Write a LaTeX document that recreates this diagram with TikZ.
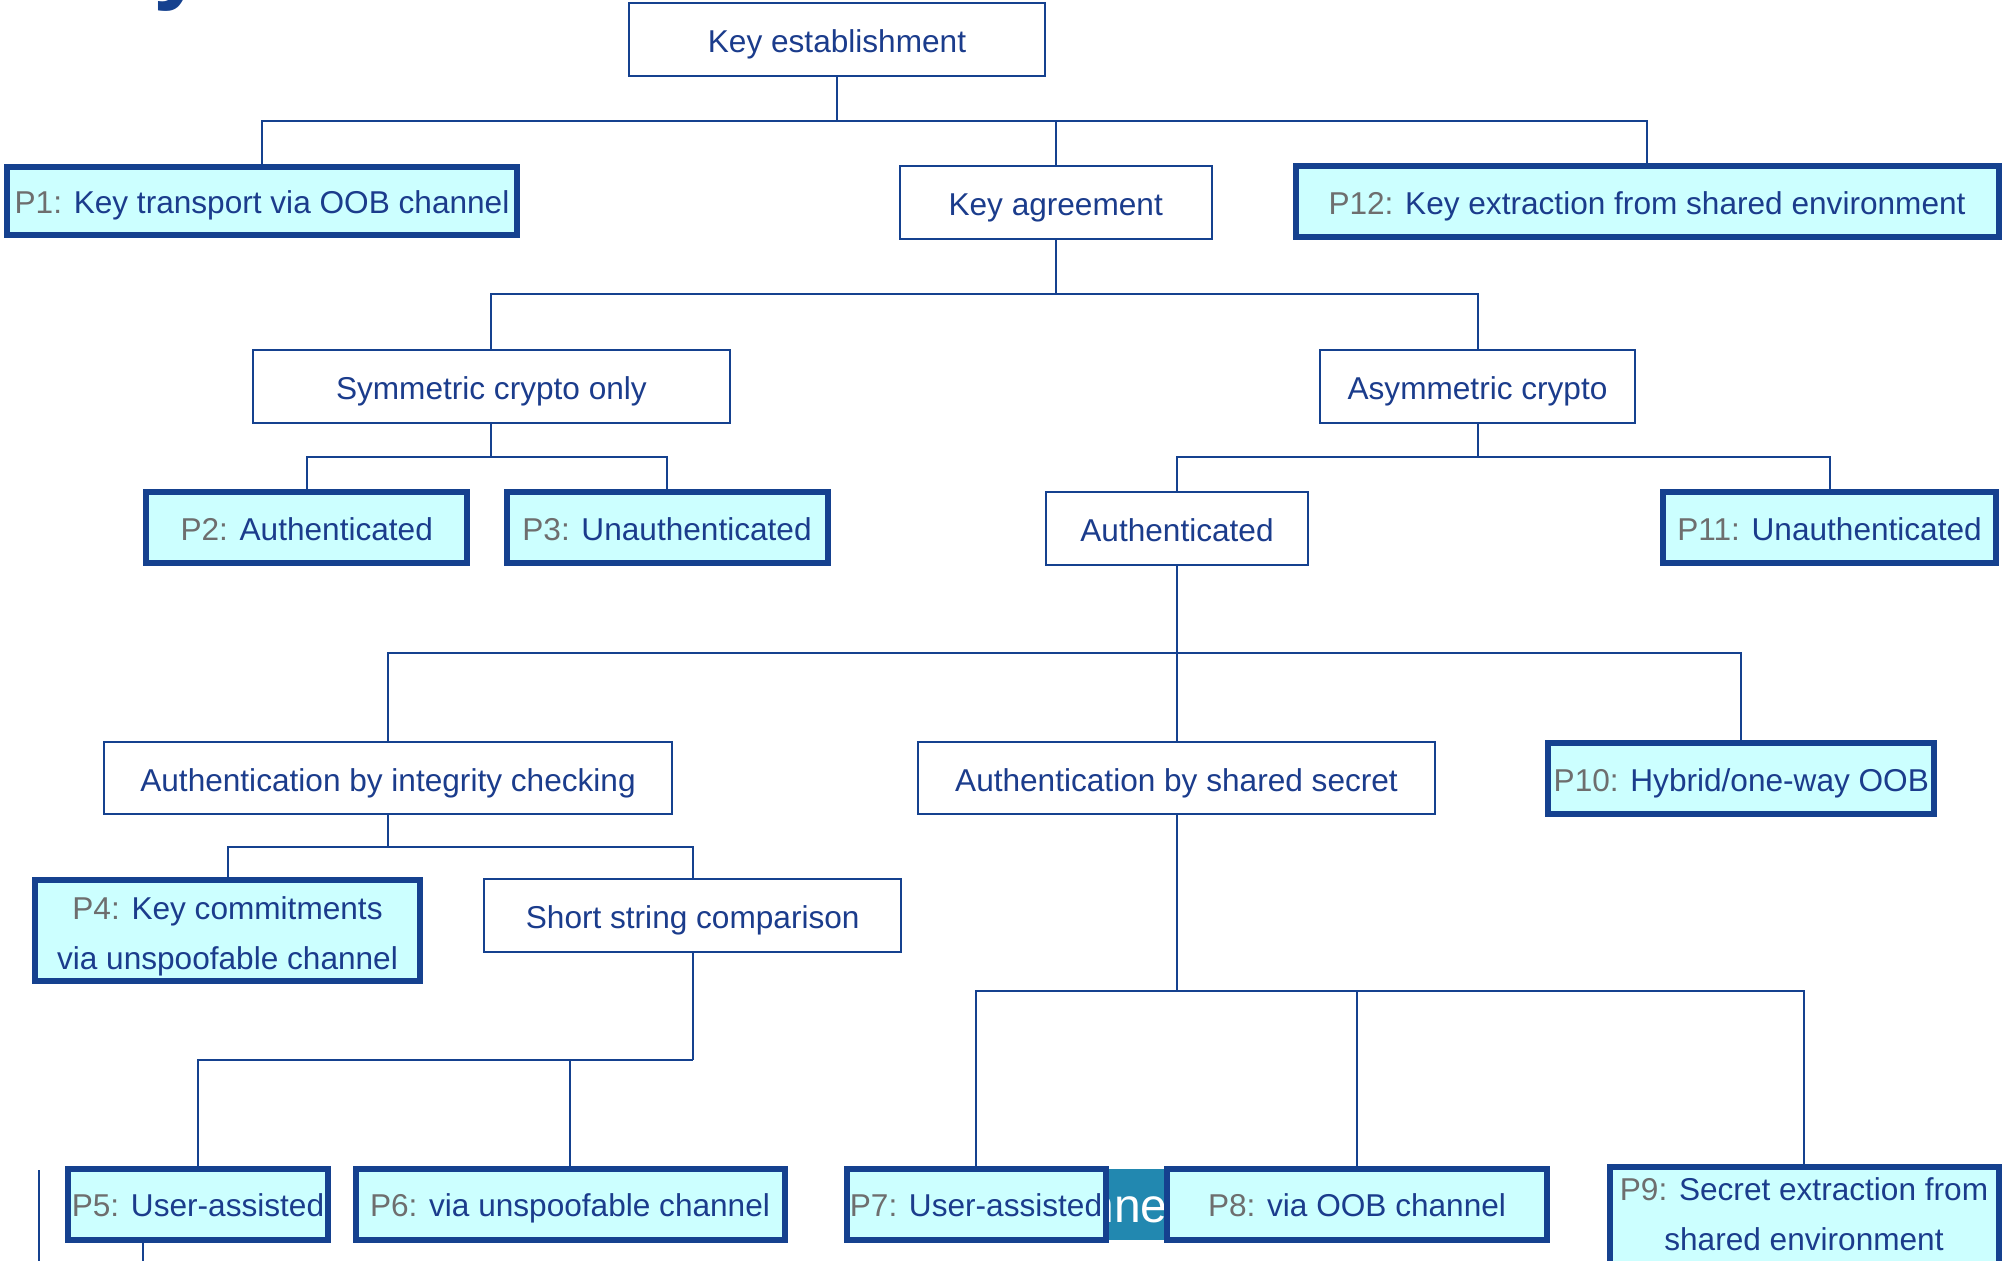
\documentclass[tikz,border=0pt]{standalone}
\usepackage{fontspec}
\setmainfont{Liberation Sans}
\usetikzlibrary{calc}
\definecolor{bdr}{HTML}{15418F}
\definecolor{txtblue}{HTML}{1B3C8C}
\definecolor{plgray}{HTML}{6E6E6E}
\definecolor{pfill}{HTML}{CCFFFF}
\definecolor{slideteal}{HTML}{2288B0}
\newcommand\plab[1]{\textcolor{plgray}{#1}}
\begin{document}
\begin{tikzpicture}[x=0.5pt,y=-0.5pt,
  boxbase/.style={inner sep=0pt, text=txtblue, align=center,
    text height=12.8pt, text depth=0pt,
    font=\fontsize{15.8}{25}\selectfont},
  twolines/.style={text height=39.5pt, text depth=0pt},
  catbox/.style={boxbase, draw=bdr, line width=1pt, fill=white},
  probox/.style={boxbase, draw=bdr, line width=3pt, fill=pfill},
  link/.style={draw=bdr, line width=1pt}]
\useasboundingbox (0,0) rectangle (2004,1261);

% fragments of the surrounding slide
\node[anchor=base west, inner sep=0pt, text=bdr,
  font=\fontsize{48}{48}\selectfont\bfseries] (ytail) at (153,-8) {y};
\fill[slideteal] (1100,1169) rectangle (1170,1240);
\begin{scope}
  \clip (1100,1169) rectangle (1170,1240);
  \node[anchor=base east, inner sep=0pt, text=white,
    font=\fontsize{24}{24}\selectfont] (tealtxt) at (1168,1222) {nne};
\end{scope}
\coordinate (edgeA) at (39,1170);
\coordinate (edgeB) at (39,1261);
\draw[link] (edgeA) -- (edgeB);

% level bars
\coordinate (b1) at (0,121.4);
\coordinate (b2) at (0,294);
\coordinate (b3) at (0,457.5);
\coordinate (b5) at (0,653.1);
\coordinate (b6) at (0,847.4);
\coordinate (b7) at (0,1059.5);
\coordinate (b8) at (0,990.5);

% nodes
\node[catbox, minimum width=207.6pt, minimum height=36.1pt] (ke) at (837,39.6) {Key establishment};
\node[probox, minimum width=255pt, minimum height=34pt] (p1) at (262,200.6) {\plab{P1:} Key transport via OOB channel};
\node[catbox, minimum width=156pt, minimum height=36.6pt] (ka) at (1055.7,202.6) {Key agreement};
\node[probox, minimum width=351.5pt, minimum height=35.5pt] (p12) at (1647,202) {\plab{P12:} Key extraction from shared environment};

\node[catbox, minimum width=238.6pt, minimum height=36.6pt] (sym) at (491.4,386.6) {Symmetric crypto only};
\node[catbox, minimum width=157.6pt, minimum height=36.6pt] (asym) at (1477.5,386.6) {Asymmetric crypto};

\node[probox, minimum width=160.5pt, minimum height=35.5pt] (p2) at (306.7,527.8) {\plab{P2:} Authenticated};
\node[probox, minimum width=160.5pt, minimum height=35.5pt] (p3) at (667,527.8) {\plab{P3:} Unauthenticated};
\node[catbox, minimum width=130.6pt, minimum height=36.6pt] (auth) at (1177,528.5) {Authenticated};
\node[probox, minimum width=166.5pt, minimum height=35.5pt] (p11) at (1829.5,527.8) {\plab{P11:} Unauthenticated};

\node[catbox, minimum width=283.6pt, minimum height=36.1pt] (integ) at (388,778.3) {Authentication by integrity checking};
\node[catbox, minimum width=258.1pt, minimum height=36.1pt] (shsec) at (1176.5,778.3) {Authentication by shared secret};
\node[probox, minimum width=193pt, minimum height=35.5pt] (p10) at (1741.3,778.3) {\plab{P10:} Hybrid/one-way OOB};

\node[probox, twolines, minimum width=192.5pt, minimum height=50.5pt] (p4) at (227.5,930.4) {\plab{P4:} Key commitments\\via unspoofable channel};
\node[catbox, minimum width=208.6pt, minimum height=36.6pt] (ssc) at (692.7,915.7) {Short string comparison};

\node[probox, minimum width=130pt, minimum height=35.5pt] (p5) at (198,1204) {\plab{P5:} User-assisted};
\node[probox, minimum width=214.5pt, minimum height=35.5pt] (p6) at (570,1204) {\plab{P6:} via unspoofable channel};
\node[probox, minimum width=129.5pt, minimum height=35.5pt] (p7) at (976,1204) {\plab{P7:} User-assisted};
\node[probox, minimum width=190pt, minimum height=35.5pt] (p8) at (1357,1204) {\plab{P8:} via OOB channel};
\node[probox, twolines, text depth=6.4pt, minimum width=194.5pt, minimum height=50.5pt] (p9) at (1804,1217.7) {\plab{P9:} Secret extraction from\\shared environment};

% tree connectors
\draw[link] (ke.south) -- (ke.south |- b1);
\draw[link] (p1.north) |- (ke.south |- b1);
\draw[link] (ka.north) |- (ke.south |- b1);
\draw[link] (p12.north) |- (ke.south |- b1);

\draw[link] (ka.south) -- (ka.south |- b2);
\draw[link] (sym.north) |- (ka.south |- b2);
\draw[link] (asym.north) |- (ka.south |- b2);

\draw[link] (sym.south) -- (sym.south |- b3);
\draw[link] (p2.north) |- (sym.south |- b3);
\draw[link] (p3.north) |- (sym.south |- b3);

\draw[link] (asym.south) -- (asym.south |- b3);
\draw[link] (auth.north) |- (asym.south |- b3);
\draw[link] (p11.north) |- (asym.south |- b3);

\draw[link] (auth.south) -- (auth.south |- b5);
\draw[link] (integ.north) |- (auth.south |- b5);
\draw[link] (shsec.north) |- (auth.south |- b5);
\draw[link] (p10.north) |- (auth.south |- b5);

\draw[link] (integ.south) -- (integ.south |- b6);
\draw[link] (p4.north) |- (integ.south |- b6);
\draw[link] (ssc.north) |- (integ.south |- b6);

\draw[link] (ssc.south) -- (ssc.south |- b7);
\draw[link] (p5.north) |- (ssc.south |- b7);
\draw[link] (p6.north) |- (ssc.south |- b7);

\draw[link] (shsec.south) -- (shsec.south |- b8);
\draw[link] (p7.north) |- (shsec.south |- b8);
\draw[link] (p8.north) |- (shsec.south |- b8);
\draw[link] (p9.north) |- (shsec.south |- b8);

% stub leaving the bottom edge below P5
\coordinate (stubEnd) at (143,1261);
\draw[link] (stubEnd |- p5.south) -- (stubEnd);
\end{tikzpicture}
\end{document}
